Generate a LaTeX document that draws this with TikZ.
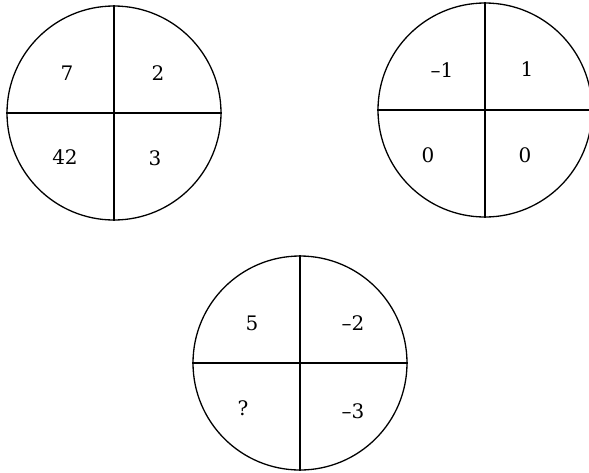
\documentclass[tikz,border=0pt]{standalone}
\usepackage{fontspec}
\setmainfont{DejaVu Serif}
\begin{document}
\begin{tikzpicture}[x=1pt, y=-1pt, line width=1.3pt,
			ring/.style={circle, draw, inner sep=0pt, minimum size=214pt},
			num/.style={font=\fontsize{20}{24}\selectfont, inner sep=0pt}]
			\useasboundingbox (0,0) rectangle (589,472);
			% три круга
			\node[ring] (A) at (114,113) {};
			\node[ring] (B) at (485,110) {};
			\node[ring] (C) at (300,363) {};
			% крест в каждом круге
			\foreach \c in {A,B,C}{
				\draw[line width=1.1pt] (\c.north) -- (\c.south);
				\draw[line width=1.1pt] (\c.west) -- (\c.east);
			}
			% числа по четвертям
			\node[num] (a1) at (67,73) {7};
			\node[num] (a2) at (158,73) {2};
			\node[num] (a3) at (65,157) {42};
			\node[num] (a4) at (155,158) {3};
			\node[num] (b1) at (442,70) {–1};
			\node[num] (b2) at (527,69) {1};
			\node[num] (b3) at (428,155) {0};
			\node[num] (b4) at (525,155) {0};
			\node[num] (c1) at (252,323) {5};
			\node[num] (c2) at (353,323) {–2};
			\node[num] (c3) at (243,408) {?};
			\node[num] (c4) at (353,411) {–3};
		\end{tikzpicture}
\end{document}
